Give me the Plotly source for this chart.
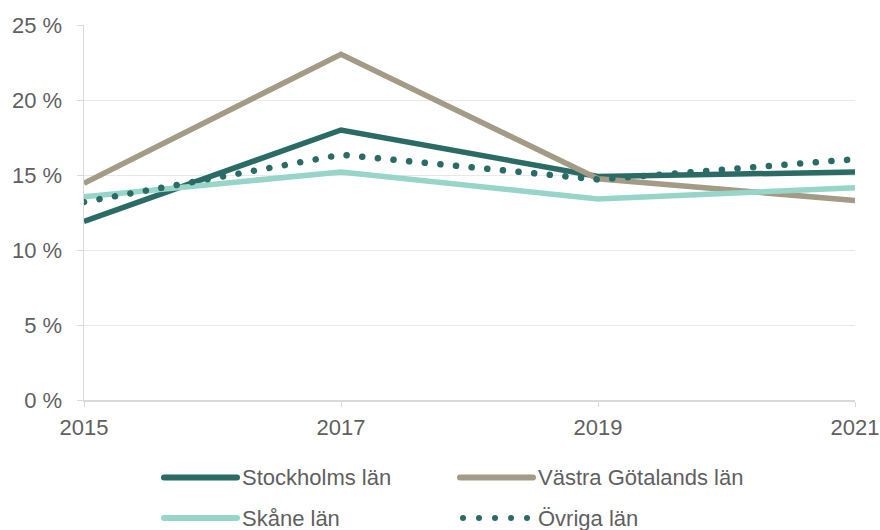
import plotly.graph_objects as go

years = [2015, 2017, 2019, 2021]
series_names = ["Stockholms län", "Västra Götalands län", "Skåne län", "Övriga län"]
stockholm = [11.9, 18.0, 14.9, 15.2]
vastra = [14.45, 23.05, 14.75, 13.3]
skane = [13.55, 15.2, 13.4, 14.15]
ovriga = [13.2, 16.35, 14.7, 16.05]
y_ticks = [0, 5, 10, 15, 20, 25]
x_ticks = [2015, 2017, 2019, 2021]

colors = ["#2b6b66", "#a39b85", "#96d5c8", "#2b6b66"]
values = [stockholm, vastra, skane, ovriga]
dashes = ["solid", "solid", "solid", "0.1px,15.6px"]

fig = go.Figure()
for name, vals, col, dash in zip(series_names, values, colors, dashes):
    fig.add_trace(go.Scatter(
        x=years, y=vals, mode="lines", name=name,
        line=dict(color=col, width=5.5 if dash == "solid" else 6.5, dash=dash),
        showlegend=False, hoverinfo="skip",
    ))

L, R, T, B = 84, 25, 25, 130
W, H = 880, 530
pw, ph = W - L - R, H - T - B

def px_x(p):
    return (p - L) / pw

def px_y(p):
    return (H - B - p) / ph

# custom legend
leg_pos = [(164, 237, 477.5), (460, 533, 477.5), (164, 237, 518), (460, 533, 518)]
for i, (name, col) in enumerate(zip(series_names, colors)):
    x0, x1, yy = leg_pos[i]
    if i == 3:
        for k in range(5):
            cx = 463 + 16 * k
            fig.add_shape(type="circle", xref="paper", yref="paper",
                          x0=px_x(cx - 3), x1=px_x(cx + 3),
                          y0=px_y(yy + 3), y1=px_y(yy - 3),
                          fillcolor=col, line=dict(width=0))
    else:
        fig.add_shape(type="line", xref="paper", yref="paper",
                      x0=px_x(x0), x1=px_x(x1), y0=px_y(yy), y1=px_y(yy),
                      line=dict(color=col, width=6))
    fig.add_annotation(xref="paper", yref="paper", x=px_x(x1 + 3), y=px_y(yy),
                       text=name, showarrow=False, xanchor="left", yanchor="middle",
                       font=dict(size=22, color="#5f5f5f"))

fig.update_layout(
    width=W, height=H,
    margin=dict(l=L, r=R, t=T, b=B, autoexpand=False),
    plot_bgcolor="white", paper_bgcolor="white",
    font=dict(family="Liberation Sans, Arial, sans-serif", size=22, color="#5f5f5f"),
    xaxis=dict(
        range=[2015, 2021], tickvals=x_ticks, ticktext=[str(v) for v in x_ticks],
        showgrid=False, zeroline=False, automargin=False,
        showline=True, linecolor="#d9d9d9", linewidth=1.5,
        ticks="outside", ticklen=5, tickcolor="#d9d9d9",
        ticklabelstandoff=2,
    ),
    yaxis=dict(
        range=[0, 25], tickvals=y_ticks, ticktext=[f"{v} %" for v in y_ticks],
        showgrid=True, gridcolor="#e8e8e8", gridwidth=1, zeroline=False, automargin=False,
        showline=True, linecolor="#d9d9d9", linewidth=1.5,
        ticks="outside", ticklen=6, tickcolor="#d9d9d9",
        ticklabelstandoff=10,
    ),
)

post = """
document.body.style.margin = '0';
document.body.style.overflow = 'hidden';
var gd = document.getElementsByClassName('plotly-graph-div')[0];
function fixCaps(){
  var traces = gd.querySelectorAll('.scatterlayer .trace');
  if (traces.length >= 4) {
    var p = traces[3].querySelectorAll('path.js-line');
    p.forEach(function(e){ e.style.strokeLinecap = 'round'; });
  }
  gd.querySelectorAll('.shapelayer path').forEach(function(e){ e.style.strokeLinecap = 'round'; });
}
fixCaps();
gd.on('plotly_afterplot', fixCaps);
"""
fig.write_html("out.html", post_script=post, config={"displayModeBar": False, "staticPlot": True})
